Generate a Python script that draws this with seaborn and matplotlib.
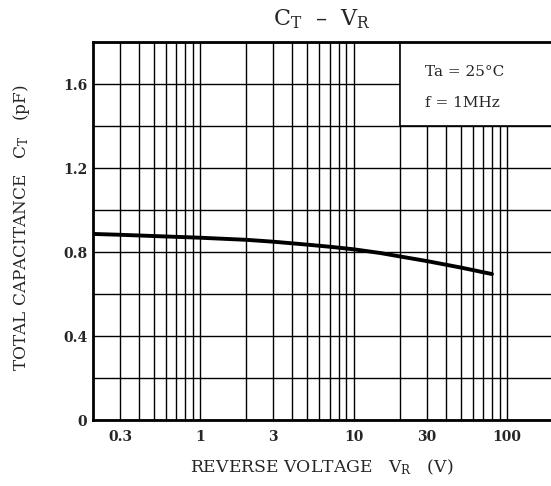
import numpy as np
import pandas as pd
import matplotlib
matplotlib.use("Agg")
import matplotlib.pyplot as plt
import seaborn as sns
from matplotlib.patches import Rectangle
from matplotlib.ticker import FixedLocator, NullFormatter

# data
vr = [0.2, 0.3, 0.5, 1, 2, 3, 5, 7, 10, 15, 20, 30, 50, 80]
ct = [0.886, 0.882, 0.876, 0.868, 0.858, 0.849, 0.835, 0.825, 0.813, 0.795, 0.779, 0.757, 0.726, 0.695]
xtick_vals = [0.3, 1, 3, 10, 30, 100]
xtick_labels = ["0.3", "1", "3", "10", "30", "100"]
ytick_vals = [0, 0.4, 0.8, 1.2, 1.6]
ytick_labels = ["0", "0.4", "0.8", "1.2", "1.6"]

df = pd.DataFrame({"VR": vr, "CT": ct})

sns.set_style("white")
plt.rcParams["font.family"] = ["DejaVu Serif", "DejaVu Sans"]
plt.rcParams["mathtext.fontset"] = "dejavuserif"

fig = plt.figure(figsize=(5.51, 4.86), dpi=100)
ax = fig.add_axes([93/551, (486-420)/486, (553-93)/551, (420-42)/486])

sns.lineplot(data=df, x="VR", y="CT", ax=ax, color="black", linewidth=2.8, zorder=4)

ax.set_xscale("log")
ax.set_xlim(0.2, 200)
ax.set_ylim(0, 1.8)

minor_x = [m * 10.0**e for e in (-1, 0, 1, 2) for m in range(1, 10)]
minor_x = [v for v in minor_x if 0.2 < v < 200]
ax.xaxis.set_major_locator(FixedLocator(xtick_vals))
ax.xaxis.set_minor_locator(FixedLocator(minor_x))
ax.xaxis.set_minor_formatter(NullFormatter())
ax.set_xticklabels(xtick_labels)
ax.yaxis.set_major_locator(FixedLocator(ytick_vals))
ax.yaxis.set_minor_locator(FixedLocator([0.2, 0.6, 1.0, 1.4, 1.8]))
ax.set_yticklabels(ytick_labels)

ax.set_axisbelow(True)
ax.grid(True, which="both", color="black", linewidth=1.0)
ax.tick_params(which="both", length=0, labelsize=10, pad=4)
ax.tick_params(axis="x", pad=7)
for lab in ax.get_xticklabels() + ax.get_yticklabels():
    lab.set_fontweight("bold")

for s in ["left", "bottom", "top"]:
    ax.spines[s].set_linewidth(2.0)
    ax.spines[s].set_color("black")
ax.spines["right"].set_visible(False)

# condition box covering grid
box = Rectangle((20, 1.4), 200 - 20, 0.4, facecolor="white", edgecolor="black",
                linewidth=1.2, zorder=1.5, clip_on=True)
ax.add_patch(box)
ax.text((425-93)/460, 0.92, "Ta = 25°C", transform=ax.transAxes, ha="left", va="center",
        fontsize=11, zorder=5)
ax.text((425-93)/460, 0.839, "f = 1MHz", transform=ax.transAxes, ha="left", va="center",
        fontsize=11, zorder=5)

ax.set_xlabel("")
ax.set_ylabel("")
fig.text(322/551, 1 - 19/486, r"$\mathregular{C_T}$  –  $\mathregular{V_R}$",
         ha="center", va="center", fontsize=16)
fig.text(322/551, 1 - 467/486, r"REVERSE VOLTAGE   $\mathregular{V_R}$   (V)",
         ha="center", va="center", fontsize=12.4)
fig.text(22/551, 1 - 228/486, r"TOTAL CAPACITANCE   $\mathregular{C_T}$   (pF)",
         ha="center", va="center", fontsize=12.2, rotation=90)

fig.savefig("out.png", dpi=100)
